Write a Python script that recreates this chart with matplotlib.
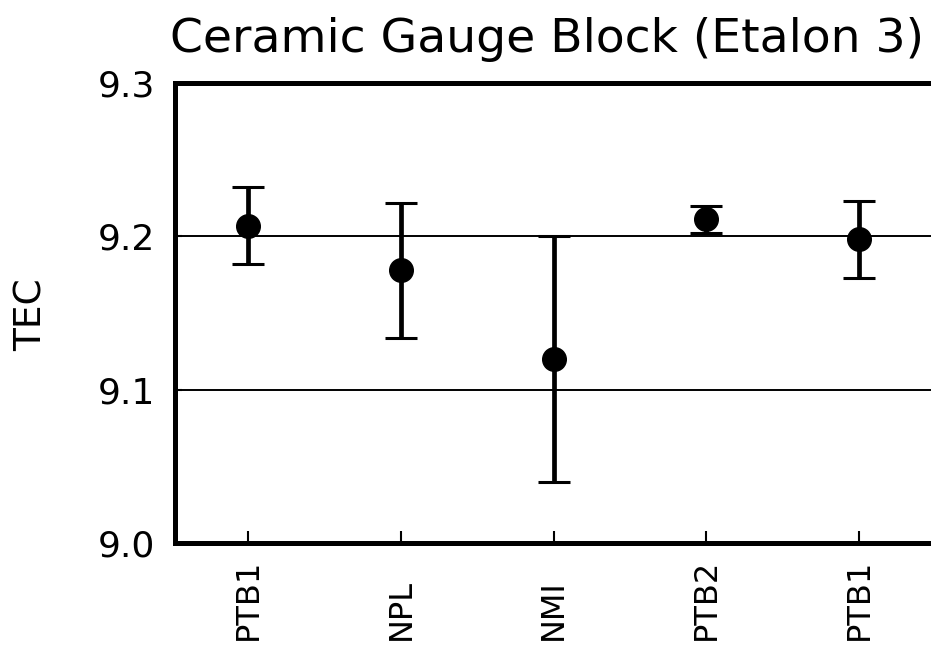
import matplotlib
matplotlib.use("Agg")
import matplotlib.pyplot as plt

labs = ["PTB1", "NPL", "NMI", "PTB2", "PTB1"]
tec = [9.207, 9.178, 9.120, 9.211, 9.198]
err = [0.025, 0.044, 0.080, 0.009, 0.025]
yticks = [9.0, 9.1, 9.2, 9.3]
ytlabels = ["9.0", "9.1", "9.2", "9.3"]
title = "Ceramic Gauge Block (Etalon 3)"
ylabel = "TEC"

W, H = 931, 654
fig = plt.figure(figsize=(W / 100, H / 100), dpi=100)
left, right, bottom, top = 175, 931, 543, 83
ax = fig.add_axes([left / W, 1 - bottom / H, (right - left) / W, (bottom - top) / H])

x = list(range(1, len(labs) + 1))
for yv in [9.1, 9.2]:
    ax.axhline(yv, color="black", lw=1.4, zorder=1)
ax.errorbar(x, tec, yerr=err, fmt="o", color="black", ms=17, elinewidth=3.4,
            capsize=11.5, capthick=2.2, zorder=3)

ax.set_xlim(0.52, 5.47)
ax.set_ylim(9.0, 9.3)
ax.set_yticks(yticks)
ax.set_yticklabels(ytlabels, fontsize=26, family="DejaVu Sans")
ax.set_xticks(x)
ax.set_xticklabels(labs, rotation=90, fontsize=23, family="DejaVu Sans",
                   rotation_mode="anchor", ha="left", va="center")
ax.tick_params(axis="x", direction="in", length=8.5, width=1.5, pad=70)
ax.tick_params(axis="y", direction="in", length=5, width=1.5, pad=14)
for s in ["left", "top", "bottom"]:
    ax.spines[s].set_linewidth(3.6)
ax.spines["right"].set_visible(False)

fig.text(32 / W, 1 - 315 / H, ylabel, rotation=90, fontsize=27,
         family="DejaVu Sans", ha="center", va="center")
fig.text(547 / W, 1 - 52 / H, title, fontsize=34, family="DejaVu Sans",
         ha="center", va="baseline")

fig.savefig("out.png", dpi=100)
